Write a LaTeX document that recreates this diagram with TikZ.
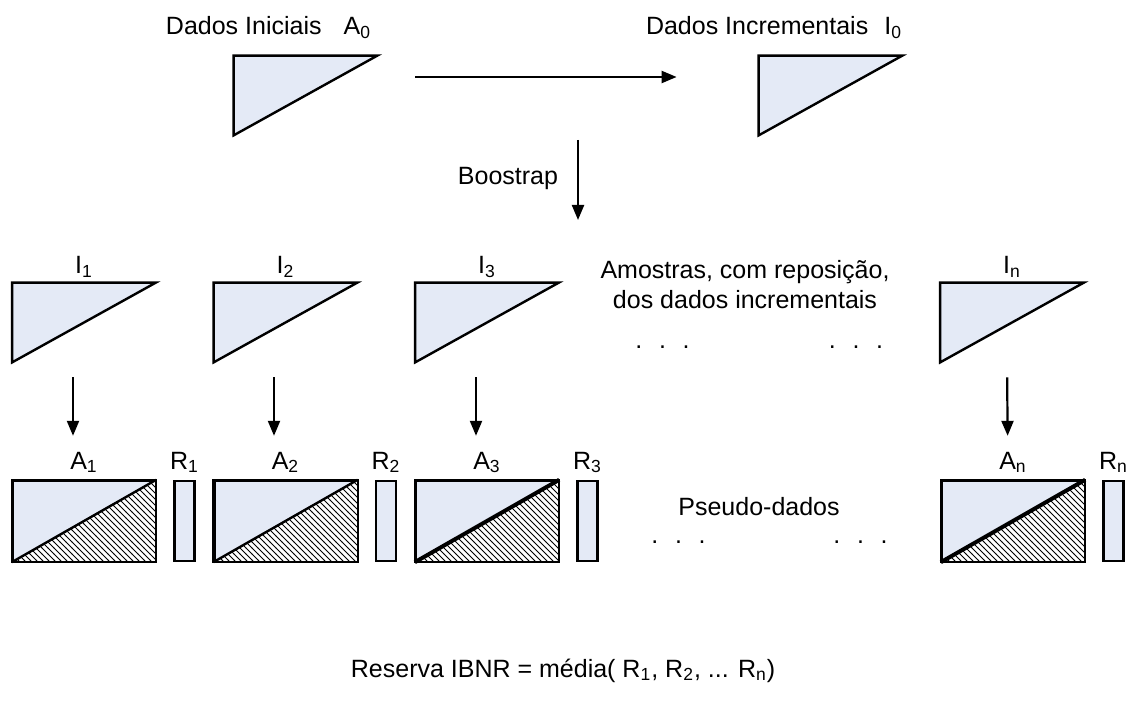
\documentclass[tikz,border=0pt]{standalone}
\usepackage{fontspec}
\setmainfont{Liberation Sans}
\usetikzlibrary{arrows.meta, positioning, patterns}
\definecolor{databg}{RGB}{228,234,246}
\tikzset{
  tribox/.style={rectangle, minimum width=71.5pt, minimum height=39.5pt, inner sep=0pt},
  triline/.style={draw=black, fill=databg, line width=1.2pt},
  matbox/.style={rectangle, draw=black, fill=databg, line width=1.2pt,
                 minimum width=71pt, minimum height=40pt, inner sep=0pt},
  resbox/.style={rectangle, draw=black, fill=databg, line width=1.2pt,
                 minimum width=10pt, minimum height=40pt, inner sep=0pt},
  txt/.style={font=\fontsize{12.5}{15}\selectfont, inner sep=0pt},
  arrow/.style={-{Triangle[length=7.5pt, width=6pt]}, line width=1.1pt},
}

\begin{document}
\begin{tikzpicture}[x=0.5pt, y=-0.5pt]

  \useasboundingbox (0,0) rectangle (1127,704);

  % =====================================================
  % ORIGINAL DATA
  % =====================================================

  \node[tribox] (a0) at (305.5,95.5) {};
  \node[tribox] (i0) at (830.5,95.5) {};

  \node[txt, anchor=base] (a0lab) at (268.5,35)
    {Dados Iniciais\hspace{11pt}A\textsubscript{0}};
  \node[txt, anchor=base] (i0lab) at (774,35)
    {Dados Incrementais\hspace{8pt}I\textsubscript{0}};

  \draw[arrow]
    ([xshift=19pt,yshift=9.25pt]a0.east) --
    ([xshift=-41pt,yshift=9.25pt]i0.west);

  % =====================================================
  % BOOTSTRAP
  % =====================================================

  \coordinate (bsTop) at (578,140);
  \coordinate (bsBot) at (578,220);
  \node[txt, anchor=base] (bs) at (508,185) {Boostrap};

  \draw[arrow] (bsTop) -- (bsBot);

  % =====================================================
  % SAMPLES
  % =====================================================

  \foreach \nm/\x/\sub in {i1/84/1, i2/285.5/2, i3/487/3, iN/1012/n} {
    \node[tribox] (\nm) at (\x,322.5) {};
    \node[txt, anchor=base] (\nm lab) at (\x,274) {I\textsubscript{\sub}};
  }

  \foreach \t in {a0,i0,i1,i2,i3,iN}
    \draw[triline] (\t.north west) -- (\t.north east) -- (\t.south west) -- cycle;

  \node[txt, align=center] (amos) at (745,285)
    {Amostras, com reposição,\\dos dados incrementais};
  \node[txt, anchor=base] (dotsA) at (662.5,349)
    {.\hspace{8.3pt}.\hspace{8.3pt}.};
  \node[txt, anchor=base] (dotsB) at (856,349)
    {.\hspace{8.3pt}.\hspace{8.3pt}.};

  % =====================================================
  % PSEUDO DATA
  % =====================================================

  \foreach \k/\x/\sub in {1/84/1, 2/285.5/2, 3/487/3, N/1013/n} {
    \node[matbox] (a\k) at (\x,521) {};
    \node[resbox] (r\k) at (\x+100.5,521) {};
    \node[txt, anchor=base] (a\k lab) at (\x,469) {A\textsubscript{\sub}};
    \node[txt, anchor=base] (r\k lab) at (\x+100.5,469) {R\textsubscript{\sub}};
  }

  \foreach \k/\w in {1/1.2pt, 2/1.2pt, 3/2pt, N/2pt} {
    \fill[white]
      (a\k.south west) -- (a\k.north east) -- (a\k.south east) -- cycle;
    \fill[pattern=north west lines]
      (a\k.south west) -- (a\k.north east) -- (a\k.south east) -- cycle;
    \draw[line width=\w] (a\k.south west) -- (a\k.north east);
    \draw[line width=1.2pt] (a\k.south west) rectangle (a\k.north east);
  }

  \foreach \k/\dx in {1/-5.5pt, 2/-5.75pt, 3/-5.5pt, N/-2.5pt}
    \draw[arrow, shorten <=7.5pt, shorten >=22pt]
      ([xshift=\dx]i\k.south) -- ([xshift=\dx]a\k.north);

  \node[txt, anchor=base] (pseudo) at (759,515) {Pseudo-dados};
  \node[txt, anchor=base] (dotsC) at (678.5,543)
    {.\hspace{8.3pt}.\hspace{8.3pt}.};
  \node[txt, anchor=base] (dotsD) at (860.5,543)
    {.\hspace{8.3pt}.\hspace{8.3pt}.};

  % =====================================================
  % RESERVE
  % =====================================================

  \node[txt, anchor=base] (ibnr) at (563,677)
    {Reserva IBNR = média( R\textsubscript{1}, R\textsubscript{2}, ... R\textsubscript{n})};

\end{tikzpicture}
\end{document}
